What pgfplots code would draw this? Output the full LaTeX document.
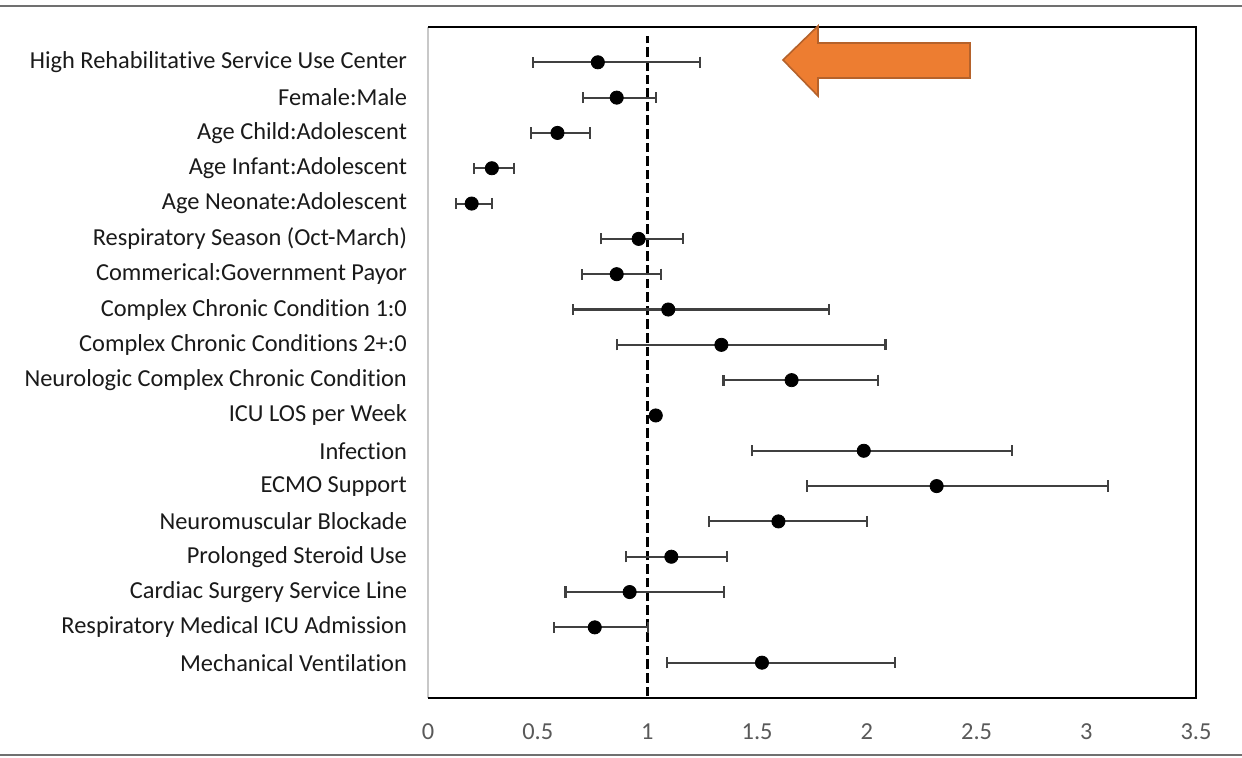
\documentclass[border=0pt]{standalone}
\usepackage{fontspec}
\setmainfont[Ligatures=CommonOff]{Carlito}
\usepackage{pgfplots}
\pgfplotsset{compat=1.18}
\usepackage{pgfplotstable}
\pgfplotstableread{
y x lo hi
18 0.774 0.477 1.238
17 0.860 0.705 1.038
16 0.590 0.470 0.739
15 0.291 0.209 0.391
14 0.199 0.129 0.291
13 0.960 0.789 1.162
12 0.860 0.702 1.063
11 1.095 0.660 1.827
10 1.337 0.862 2.085
9 1.657 1.347 2.050
8 1.038 1.032 1.044
7 1.986 1.476 2.660
6 2.318 1.726 3.100
5 1.597 1.279 2.000
4 1.109 0.903 1.362
3 0.919 0.627 1.350
2 0.760 0.575 1.003
1 1.522 1.089 2.129
}\ordata
\definecolor{tickgray}{HTML}{595959}
\definecolor{labelblack}{HTML}{1A1A1A}
\definecolor{bargray}{HTML}{404040}
\definecolor{arroworange}{HTML}{ED7D31}
\definecolor{arrowedge}{HTML}{B5622B}
\definecolor{framegray}{HTML}{C8C8C8}
\definecolor{rulegray}{HTML}{707070}
\begin{document}
\begin{tikzpicture}
\useasboundingbox (0pt,0pt) rectangle (621pt,379pt);
\draw[rulegray, line width=0.8pt] (0pt,376pt) -- (621pt,376pt);
\draw[rulegray, line width=0.8pt] (0pt,1.5pt) -- (621pt,1.5pt);
\begin{axis}[
  at={(214pt,30pt)}, anchor=south west,
  scale only axis, width=384pt, height=335.5pt,
  xmin=0, xmax=3.5, ymin=0, ymax=19,
  xtick={0,0.5,1,1.5,2,2.5,3,3.5},
  ytick={1,2,3,4,5,6,7,8,9,10,11,12,13,14,15,16,17,18},
  yticklabels={Mechanical Ventilation, Respiratory Medical ICU Admission, Cardiac Surgery Service Line, Prolonged Steroid Use, Neuromuscular Blockade, ECMO Support, Infection, ICU LOS per Week, Neurologic Complex Chronic Condition, {Complex Chronic Conditions 2+:0}, Complex Chronic Condition 1:0, Commerical:Government Payor, Respiratory Season (Oct-March), Age Neonate:Adolescent, Age Infant:Adolescent, Age Child:Adolescent, Female:Male, High Rehabilitative Service Use Center},
  major tick length=0pt,
  axis line style={draw=none},
  tick label style={font=\fontsize{12.2}{14}\selectfont},
  xticklabel style={text=tickgray, yshift=-9.5pt},
  yticklabel style={text=labelblack, xshift=-7pt},
  /pgf/number format/assume math mode=true,
  clip=false,
]
\draw[framegray, line width=0.6pt] (rel axis cs:0,0) -- (rel axis cs:0,1);
\draw[black, line width=1.1pt] (rel axis cs:0,1) -- (rel axis cs:1,1) -- (rel axis cs:1,0) -- (rel axis cs:0,0);
\addplot[black, line width=1.3pt, dash pattern=on 4.8pt off 2pt] coordinates {(1,0.05) (1,18.75)};
\addplot[only marks, mark=*, mark size=3.3pt, black,
  error bars/.cd, x dir=both, x explicit,
  error bar style={bargray, line width=1.05pt},
  error mark options={bargray, line width=1.1pt, mark size=2.8pt, rotate=90}]
  table[x=x, y=y, x error plus expr=\thisrow{hi}-\thisrow{x}, x error minus expr=\thisrow{x}-\thisrow{lo}] {\ordata};
\end{axis}
\draw[arrowedge, fill=arroworange, line width=0.8pt] (391.5pt,349pt) -- (409pt,366pt) -- (409pt,357.5pt) -- (485pt,357.5pt) -- (485pt,340pt) -- (409pt,340pt) -- (409pt,331pt) -- cycle;
\end{tikzpicture}
\end{document}
